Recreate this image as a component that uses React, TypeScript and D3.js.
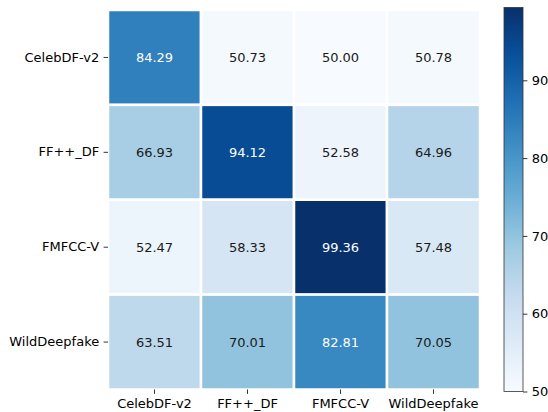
import React, { useEffect, useRef } from 'react';
import * as d3 from 'd3';

const rowLabels = ['CelebDF-v2', 'FF++_DF', 'FMFCC-V', 'WildDeepfake'];
const colLabels = ['CelebDF-v2', 'FF++_DF', 'FMFCC-V', 'WildDeepfake'];
const values = [
    [84.29, 50.73, 50.0, 50.78],
    [66.93, 94.12, 52.58, 64.96],
    [52.47, 58.33, 99.36, 57.48],
    [63.51, 70.01, 82.81, 70.05],
];
const colorbarTicks = [50, 60, 70, 80, 90];
const blues = ['#f7fbff', '#deebf7', '#c6dbef', '#9ecae1', '#6baed6', '#4292c6', '#2171b5', '#08519c', '#08306b'];

const FONT = '"DejaVu Sans", sans-serif';
const FONT_SIZE = '13px';

const HeatMap: React.FC = () => {
    const svgRef = useRef<SVGSVGElement>(null);

    useEffect(() => {
        if (!svgRef.current) return;
        const width = 548;
        const height = 412;

        d3.select(svgRef.current).selectAll('*').remove();
        const svg = d3.select(svgRef.current).attr('width', width).attr('height', height);

        const flat = values.flat();
        const vmin = Math.min(d3.min(flat) as number, 50);
        const vmax = d3.max(flat) as number;

        // matplotlib "Blues": linear segments between the 9 brewer colours
        const tScale = d3.scaleLinear().domain([vmin, vmax]).range([0, 1]).clamp(true);
        const colorOfT = d3.scaleLinear<string>()
            .domain(blues.map((_, i) => i / (blues.length - 1)))
            .range(blues);
        const color = (v: number) => colorOfT(tScale(v));

        const luminance = (c: string) => {
            const rgb = d3.rgb(c);
            const lin = (x: number) => {
                const s = x / 255;
                return s <= 0.03928 ? s / 12.92 : Math.pow((s + 0.055) / 1.055, 2.4);
            };
            return 0.2126 * lin(rgb.r) + 0.7152 * lin(rgb.g) + 0.0722 * lin(rgb.b);
        };

        const x = d3.scaleBand().domain(colLabels).range([108, 480]);
        const y = d3.scaleBand().domain(rowLabels).range([10, 389.5]);

        const cells = values.flatMap((row, i) =>
            row.map((v, j) => ({ row: rowLabels[i], col: colLabels[j], v }))
        );

        const g = svg.append('g');
        g.selectAll('rect.cell')
            .data(cells)
            .enter()
            .append('rect')
            .attr('class', 'cell')
            .attr('x', d => x(d.col) as number)
            .attr('y', d => y(d.row) as number)
            .attr('width', x.bandwidth())
            .attr('height', y.bandwidth())
            .style('fill', d => color(d.v))
            .style('stroke', '#ffffff')
            .style('stroke-width', 2.5);

        g.selectAll('text.annot')
            .data(cells)
            .enter()
            .append('text')
            .attr('class', 'annot')
            .attr('x', d => (x(d.col) as number) + x.bandwidth() / 2)
            .attr('y', d => (y(d.row) as number) + y.bandwidth() / 2)
            .attr('text-anchor', 'middle')
            .attr('dominant-baseline', 'central')
            .style('font-family', FONT)
            .style('font-size', FONT_SIZE)
            .style('fill', d => (luminance(color(d.v)) > 0.408 ? '#1a1a1a' : '#ffffff'))
            .text(d => d.v.toFixed(2));

        // axes
        const yAxis = svg.append('g')
            .attr('transform', 'translate(108,0)')
            .call(d3.axisLeft(y).tickSize(4.4).tickPadding(4.4));
        const xAxis = svg.append('g')
            .attr('transform', 'translate(0,389.5)')
            .call(d3.axisBottom(x).tickSize(4.4).tickPadding(4.4));
        [yAxis, xAxis].forEach(a => {
            a.select('.domain').remove();
            a.selectAll('text').style('font-family', FONT).style('font-size', FONT_SIZE).style('fill', '#000');
            a.selectAll('line').style('stroke', '#000').style('stroke-width', 0.8);
        });

        // colorbar
        const cbX = 504;
        const cbW = 19;
        const cbScale = d3.scaleLinear().domain([vmin, vmax]).range([391.5, 7.5]);
        const defs = svg.append('defs');
        const grad = defs.append('linearGradient')
            .attr('id', 'cbgrad')
            .attr('x1', 0).attr('y1', 1).attr('x2', 0).attr('y2', 0);
        grad.selectAll('stop')
            .data(blues)
            .enter()
            .append('stop')
            .attr('offset', (_, i) => i / (blues.length - 1))
            .attr('stop-color', d => d);

        svg.append('rect')
            .attr('x', cbX)
            .attr('y', cbScale(vmax))
            .attr('width', cbW)
            .attr('height', cbScale(vmin) - cbScale(vmax))
            .style('fill', 'url(#cbgrad)')
            .style('stroke', '#333')
            .style('stroke-width', 0.8);

        const cbAxis = svg.append('g')
            .attr('transform', `translate(${cbX + cbW},0)`)
            .call(d3.axisRight(cbScale).tickValues(colorbarTicks).tickFormat(d3.format('d')).tickSize(4.4).tickPadding(4.4));
        cbAxis.select('.domain').remove();
        cbAxis.selectAll('text').style('font-family', FONT).style('font-size', FONT_SIZE).style('fill', '#000');
        cbAxis.selectAll('line').style('stroke', '#000').style('stroke-width', 0.8);
    }, []);

    return (
        <div style={{ position: 'absolute', left: 0, top: 0, background: '#fff' }}>
            <svg ref={svgRef} style={{ display: 'block' }}></svg>
        </div>
    );
};

export default function App() {
    return <HeatMap />;
}
